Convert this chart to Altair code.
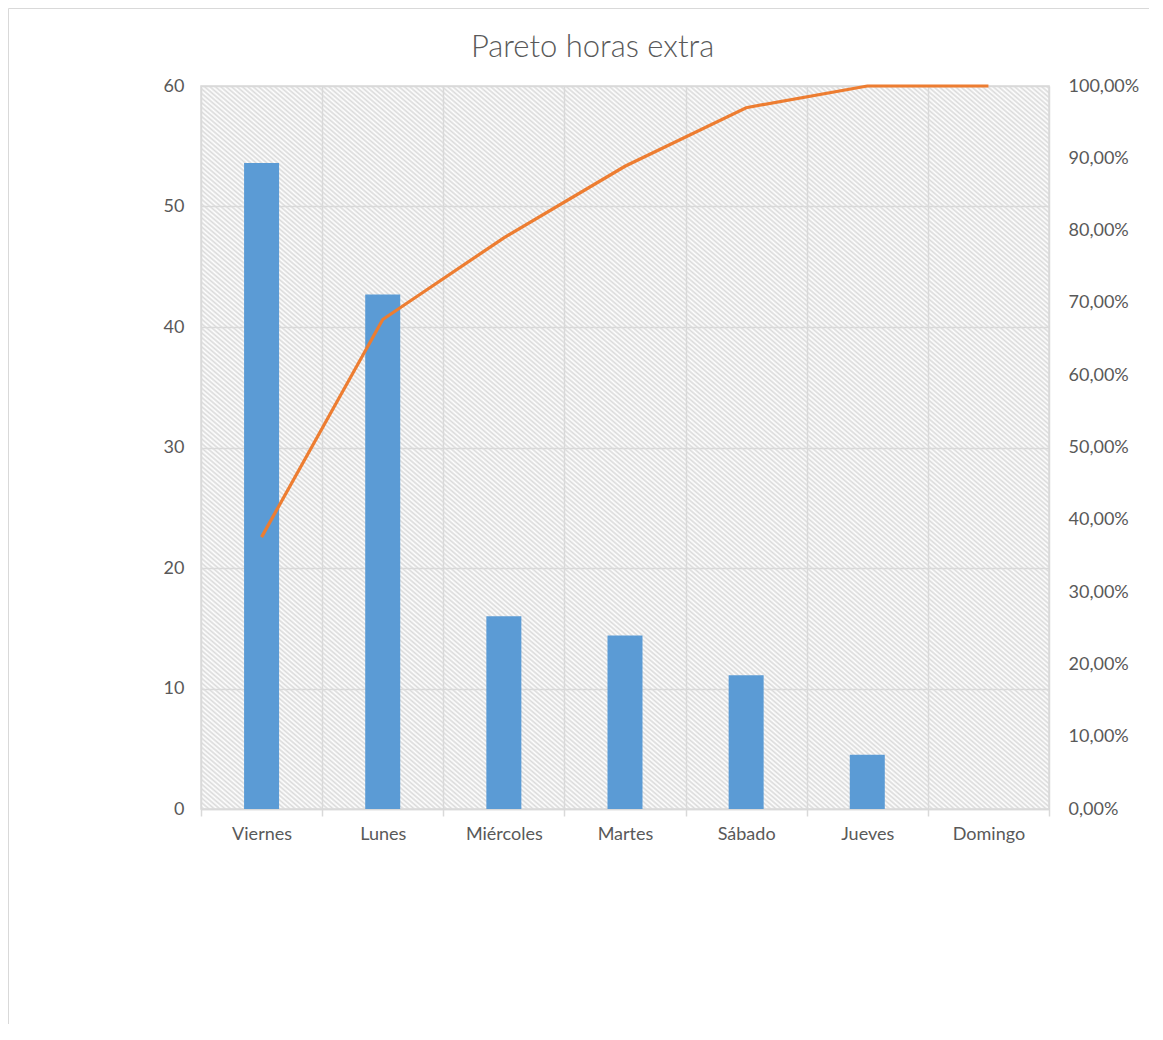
import altair as alt
import pandas as pd

# ---- data ----
dias = ["Viernes", "Lunes", "Miércoles", "Martes", "Sábado", "Jueves", "Domingo"]
horas = [53.6, 42.7, 16.0, 14.4, 11.1, 4.5, 0.0]
acumulado = [0.376, 0.677, 0.790, 0.889, 0.970, 1.0, 1.0]
ticks_izq = [0, 10, 20, 30, 40, 50, 60]
ticks_der = [0, 0.1, 0.2, 0.3, 0.4, 0.5, 0.6, 0.7, 0.8, 0.9, 1.0]

df = pd.DataFrame({"dia": dias, "horas": horas, "acum": acumulado})

W, H = 848, 723
GRID = "#d9d9d9"
TXT = "#595959"
FONT = "Lato"

# hatched plot background (diagonal stripes) as a linear gradient
n_stripes = 314
stops = []
for k in range(n_stripes):
    stops.append("{offset:%.5f,color:'#ffffff'}" % (k / n_stripes))
    stops.append("{offset:%.5f,color:'#dadada'}" % ((k + 0.5) / n_stripes))
stops.append("{offset:1,color:'#ffffff'}")
hatch_expr = "{gradient:'linear',x1:0,y1:1,x2:1,y2:0,stops:[" + ",".join(stops) + "]}"

base = alt.Chart(df).encode(
    x=alt.X(
        "dia:N",
        sort=dias,
        scale=alt.Scale(paddingInner=0, paddingOuter=0),
        axis=alt.Axis(
            title=None,
            labelAngle=0,
            labelFont=FONT,
            labelFontSize=18,
            labelColor=TXT,
            labelPadding=9,
            tickBand="extent",
            ticks=True,
            tickSize=7,
            tickColor=GRID,
            tickWidth=1.5,
            domainColor=GRID,
            domainWidth=1.5,
            grid=True,
            gridColor=GRID,
            gridWidth=1.5,
        ),
    )
)

bars = base.mark_bar(width=35, color="#5B9BD5").encode(
    y=alt.Y(
        "horas:Q",
        scale=alt.Scale(domain=[0, 60], nice=False),
        axis=alt.Axis(
            title=None,
            orient="left",
            values=ticks_izq,
            labelFont=FONT,
            labelFontSize=18,
            labelColor=TXT,
            labelPadding=17,
            ticks=False,
            domain=False,
            grid=True,
            gridColor=GRID,
            gridWidth=1.5,
        ),
    )
)

line = base.mark_line(color="#ED7D31", strokeWidth=3.2).encode(
    y=alt.Y(
        "acum:Q",
        scale=alt.Scale(domain=[0, 1], nice=False),
        axis=alt.Axis(
            title=None,
            orient="right",
            values=ticks_der,
            labelExpr="replace(format(datum.value, '.2%'), '.', ',')",
            labelFont=FONT,
            labelFontSize=18,
            labelColor=TXT,
            labelPadding=19,
            ticks=False,
            domain=False,
            grid=False,
        ),
    )
)

one = pd.DataFrame({"k": [0]})
frame_left = alt.Chart(one).mark_rule(color=GRID, strokeWidth=1).encode(
    x=alt.value(-192.5), y=alt.value(-77.5), y2=alt.value(945)
)
frame_top = alt.Chart(one).mark_rule(color=GRID, strokeWidth=1).encode(
    x=alt.value(-192.5), x2=alt.value(1000), y=alt.value(-77.5)
)

chart = (
    alt.layer(bars, line, frame_left, frame_top)
    .resolve_scale(y="independent")
    .properties(
        width=W,
        height=H,
        title=alt.Title(
            "Pareto horas extra",
            font=FONT,
            fontSize=31,
            fontWeight=300,
            color=TXT,
            anchor="middle",
            frame="group",
            baseline="alphabetic",
            offset=-80,
            dx=-32.5,
        ),
        autosize=alt.AutoSizeParams(type="none"),
        padding={"left": 193, "top": 78, "right": 100, "bottom": 215},
        view=alt.ViewBackground(fill={"expr": hatch_expr}, stroke=GRID, strokeWidth=1.5),
        background="white",
    )
)

chart.save("out.html", embed_options={"renderer": "svg", "actions": False})
